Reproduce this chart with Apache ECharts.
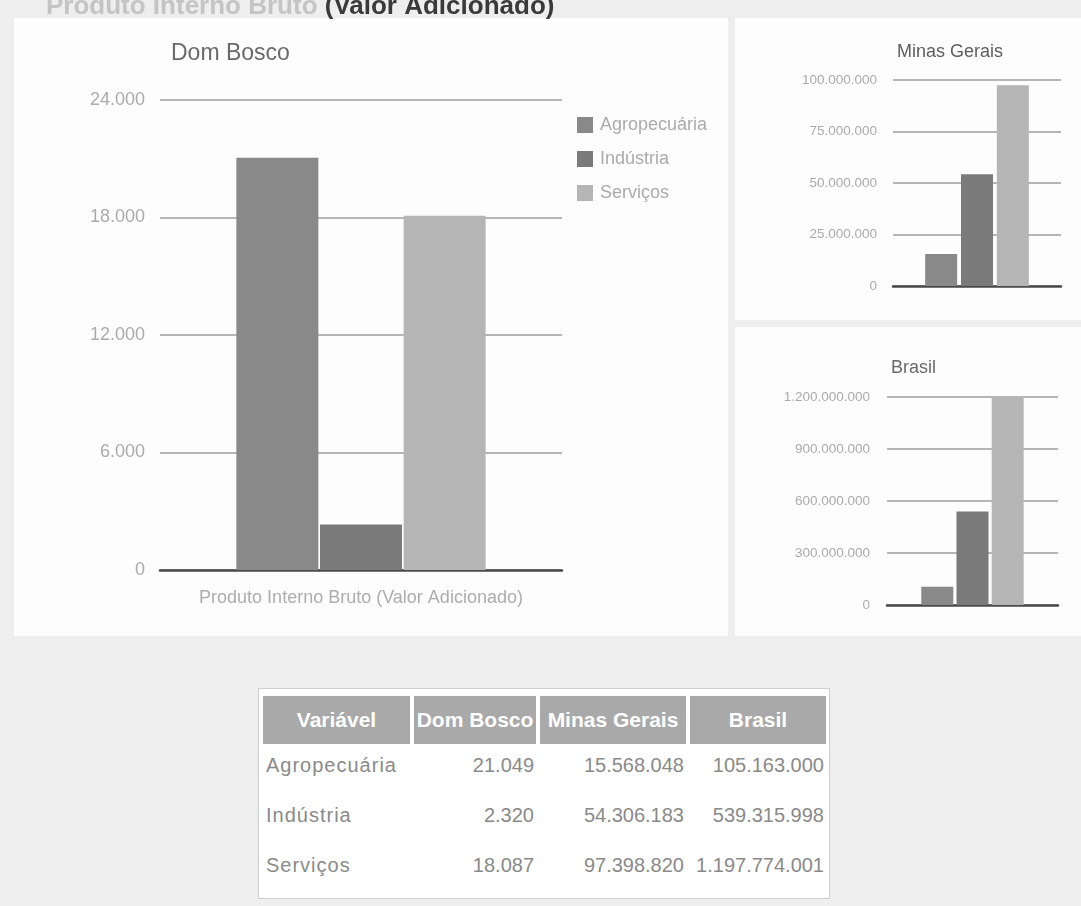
<!DOCTYPE html>
<html lang="pt-BR">
<head>
<meta charset="utf-8">
<title>Produto Interno Bruto (Valor Adicionado)</title>
<script src="https://cdn.jsdelivr.net/npm/echarts@6/dist/echarts.min.js"></script>
<style>
  html, body { margin: 0; padding: 0; }
  body { width: 1081px; height: 906px; background: #eeeeee; position: relative; overflow: hidden;
         font-family: "Liberation Sans", Arial, sans-serif; }
  .panel { position: absolute; background: #fdfdfd; }
  #chart { position: absolute; left: 0; top: 0; width: 1081px; height: 906px; }
  #tableWrap { position: absolute; left: 258px; top: 688px; width: 570px; background: #ffffff;
               border: 1px solid #cfcfcf; padding-top: 3px; }
  #tableWrap table { border-collapse: separate; border-spacing: 4px; width: 100%; table-layout: fixed; }
  #tableWrap th { background: #a9a9a9; color: #ffffff; font-weight: bold; font-size: 21px; height: 48px;
                  padding: 0 2px; white-space: nowrap; text-align: center; }
  #tableWrap td { color: #8a8a8a; font-size: 20px; height: 40px; padding: 6px 2px 0 2px;
                  vertical-align: top; white-space: nowrap; text-align: right; }
  #tableWrap td.label { text-align: left; letter-spacing: 1px; padding-left: 3px; }
</style>
</head>
<body>
<!-- page panels behind the charts -->
<div class="panel" style="left:14px; top:18px; width:714px; height:618px;"></div>
<div class="panel" style="left:735px; top:18px; width:346px; height:302px;"></div>
<div class="panel" style="left:735px; top:327px; width:346px; height:309px;"></div>
<div id="chart"></div>
<div id="tableWrap"><table id="dataTable"></table></div>
<script>
// Sectors of value added and the three regions compared
const sectors = ['Agropecuária', 'Indústria', 'Serviços'];
const regions = ['Dom Bosco', 'Minas Gerais', 'Brasil'];
const xCategory = ['Produto Interno Bruto (Valor Adicionado)'];
const tableHeader = 'Variável';

// Value added by sector (same order as sectors)
const domBosco = [21049, 2320, 18087];
const minasGerais = [15568048, 54306183, 97398820];
const brasil = [105163000, 539315998, 1197774001];

// Value axis ticks of each chart
const domBoscoTicks = [0, 6000, 12000, 18000, 24000];
const minasGeraisTicks = [0, 25000000, 50000000, 75000000, 100000000];
const brasilTicks = [0, 300000000, 600000000, 900000000, 1200000000];

const sectorColors = ['#898989', '#7a7a7a', '#b5b5b5'];

// Brazilian thousands separator
function fmt(n) {
  return String(Math.round(n)).replace(/\B(?=(\d{3})+(?!\d))/g, '.');
}

function valueAxis(gridIndex, ticks, fontSize, margin) {
  return {
    type: 'value', gridIndex: gridIndex,
    min: ticks[0], max: ticks[ticks.length - 1], interval: ticks[1] - ticks[0],
    axisLine: { show: false }, axisTick: { show: false },
    axisLabel: { formatter: fmt, color: '#ababab', fontSize: fontSize, margin: margin,
                 fontFamily: 'Liberation Sans' },
    splitLine: { lineStyle: { color: '#9e9e9e', width: 1.5 } }
  };
}

function categoryAxis(gridIndex, showLabel) {
  return {
    type: 'category', gridIndex: gridIndex, data: xCategory,
    axisTick: { show: false },
    axisLine: { lineStyle: { color: '#4a4a4a', width: 2.5 } },
    axisLabel: { show: showLabel, color: '#adadad', fontSize: 18, margin: 19,
                 fontFamily: 'Liberation Sans' }
  };
}

const regionValues = [domBosco, minasGerais, brasil];
const gaps = [
  { cat: '38%', bar: '2%', width: 82 },
  { cat: '37%', bar: '12%', width: 32 },
  { cat: '38%', bar: '10%', width: 32 }
];

const series = [];
regionValues.forEach(function (vals, g) {
  sectors.forEach(function (name, i) {
    series.push({
      type: 'bar', name: name, xAxisIndex: g, yAxisIndex: g,
      data: [vals[i]],
      barWidth: gaps[g].width,
      barGap: gaps[g].bar, barCategoryGap: gaps[g].cat,
      itemStyle: { color: sectorColors[i] },
      emphasis: { disabled: true }
    });
  });
});

const chart = echarts.init(document.getElementById('chart'), null, { renderer: 'canvas' });
chart.setOption({
  backgroundColor: 'transparent',
  animation: false,
  color: sectorColors,
  textStyle: { fontFamily: 'Liberation Sans' },
  title: [
    { text: regions[0], left: 166, top: 37,
      textStyle: { fontSize: 23, fontWeight: 'normal', color: '#6a6a6a' } },
    { text: regions[1], left: 892, top: 38,
      textStyle: { fontSize: 18, fontWeight: 'normal', color: '#5e5e5e' } },
    { text: regions[2], left: 886, top: 354,
      textStyle: { fontSize: 18, fontWeight: 'normal', color: '#6a6a6a' } }
  ],
  legend: {
    data: sectors, orient: 'vertical', left: 572, top: 111,
    icon: 'rect', itemWidth: 16, itemHeight: 16, itemGap: 16,
    selectedMode: false,
    textStyle: { color: '#ababab', fontSize: 18, padding: [0, 0, 0, 2] }
  },
  grid: [
    { left: 160, top: 100, width: 402, height: 470 },
    { left: 893, top: 80, width: 168, height: 206 },
    { left: 887, top: 397, width: 171, height: 208 }
  ],
  xAxis: [categoryAxis(0, true), categoryAxis(1, false), categoryAxis(2, false)],
  yAxis: [
    valueAxis(0, domBoscoTicks, 18, 15),
    valueAxis(1, minasGeraisTicks, 13.5, 16),
    valueAxis(2, brasilTicks, 13.5, 17)
  ],
  graphic: [
    { type: 'text', left: 46, top: -6, silent: true,
      style: { text: '{a|Produto Interno Bruto }{b|(Valor Adicionado)}',
               rich: { a: { fontSize: 26, fontWeight: 'bold', fill: '#c4c4c4' },
                       b: { fontSize: 26, fontWeight: 'bold', fill: '#3a3a3a' } } } }
  ],
  series: series
});

// Table of values below the charts
const table = document.getElementById('dataTable');
let html = '<colgroup><col style="width:147px"><col style="width:122px"><col style="width:146px"><col style="width:136px"></colgroup>';
html += '<tr><th>' + tableHeader + '</th>' + regions.map(function (r) { return '<th>' + r + '</th>'; }).join('') + '</tr>';
sectors.forEach(function (s, i) {
  html += '<tr><td class="label">' + s + '</td>' +
    regionValues.map(function (vals) { return '<td>' + fmt(vals[i]) + '</td>'; }).join('') + '</tr>';
});
table.innerHTML = html;
</script>
</body>
</html>
